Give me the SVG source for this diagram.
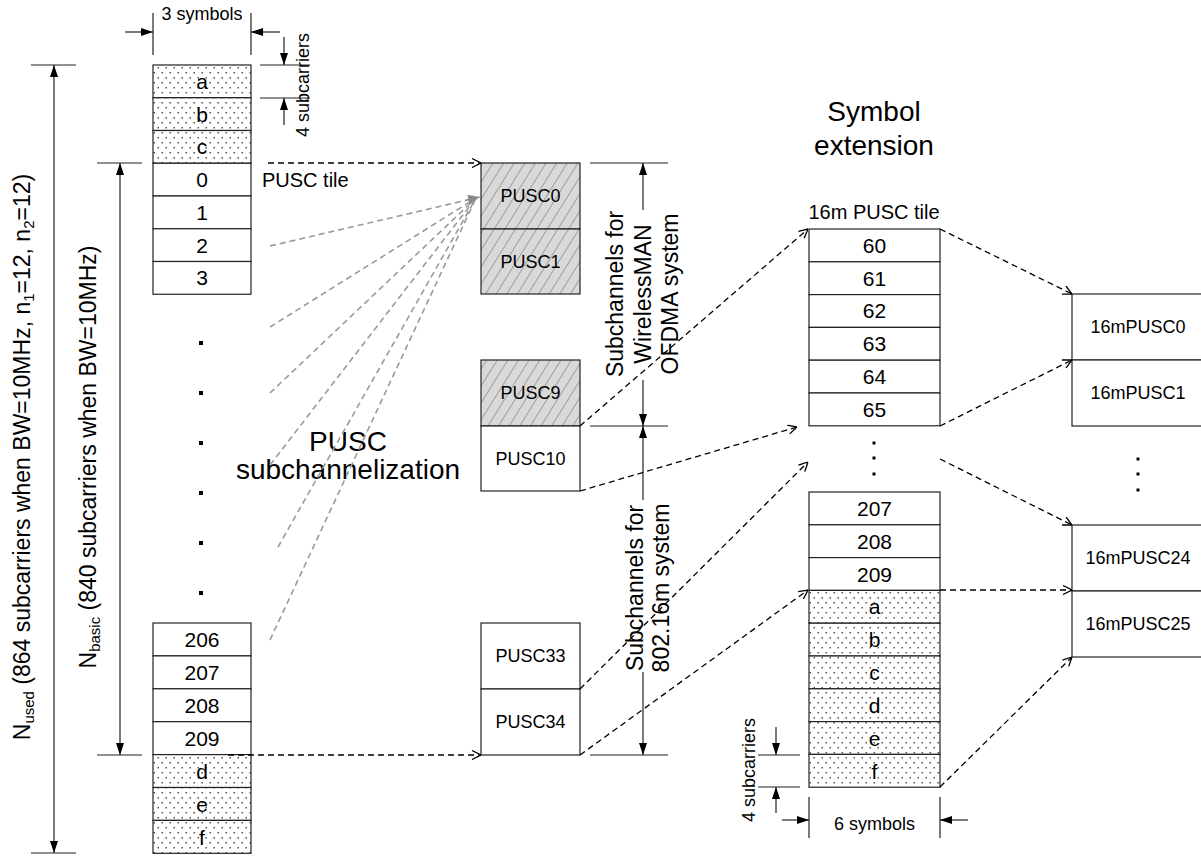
<svg xmlns="http://www.w3.org/2000/svg" width="1201" height="856" viewBox="0 0 1201 856">
<style>
text{font-family:"Liberation Sans",Arial,sans-serif;fill:#000}
.cell{stroke:#222;stroke-width:1.2;fill:#fff}
.dot{stroke:#222;stroke-width:1.2;fill:url(#dots)}
.hat{stroke:#222;stroke-width:1.2;fill:url(#hatch)}
.t21{font-size:21px;text-anchor:middle}
.t18{font-size:18px;text-anchor:middle}
.dim{stroke:#222;stroke-width:1.2;fill:none}
.da{stroke:#222;stroke-width:1.2;fill:none;marker-end:url(#af)}
.db{stroke:#222;stroke-width:1.2;fill:none;marker-start:url(#af);marker-end:url(#af)}
.dash{stroke:#000;stroke-width:1.3;fill:none;stroke-dasharray:6,4;marker-end:url(#ao)}
.gray{stroke:#9a9a9a;stroke-width:1.6;fill:none;stroke-dasharray:6,4}
.sq{fill:#000}
</style>
<defs>
<pattern id="hatch" width="9" height="9" patternUnits="userSpaceOnUse" patternTransform="rotate(32)"><rect width="9" height="9" fill="#d9d9d9"/><line x1="0" y1="0" x2="0" y2="9" stroke="#808080" stroke-width="1.3"/></pattern>
<pattern id="dots" width="8" height="10" patternUnits="userSpaceOnUse"><rect width="8" height="10" fill="#fff"/><rect x="1.5" y="2" width="1.5" height="1.5" fill="#555"/><rect x="5.5" y="7" width="1.5" height="1.5" fill="#555"/></pattern>
<marker id="af" viewBox="0 0 12 8" refX="12" refY="4" markerWidth="12" markerHeight="8" markerUnits="userSpaceOnUse" orient="auto-start-reverse"><path d="M0,0 L12,4 L0,8 z" fill="#000"/></marker>
<marker id="ao" viewBox="0 0 10 10" refX="10" refY="5" markerWidth="10" markerHeight="10" markerUnits="userSpaceOnUse" orient="auto"><path d="M1,0.5 L10,5 L1,9.5" fill="none" stroke="#000" stroke-width="1.3"/></marker>
<marker id="ag" viewBox="0 0 12 10" refX="12" refY="5" markerWidth="12" markerHeight="10" markerUnits="userSpaceOnUse" orient="auto"><path d="M0,0 L12,5 L0,10 z" fill="#8a8a8a"/></marker>
</defs>
<rect width="1201" height="856" fill="#fff"/>

<!-- left column top -->
<g id="left-top">
<rect class="dot" x="153" y="65" width="98" height="32.75"/>
<rect class="dot" x="153" y="97.75" width="98" height="32.75"/>
<rect class="dot" x="153" y="130.5" width="98" height="32.75"/>
<rect class="cell" x="153" y="163.25" width="98" height="32.75"/>
<rect class="cell" x="153" y="196" width="98" height="32.75"/>
<rect class="cell" x="153" y="228.75" width="98" height="32.75"/>
<rect class="cell" x="153" y="261.5" width="98" height="32.75"/>
<text class="t21" x="202" y="89">a</text>
<text class="t21" x="202" y="122">b</text>
<text class="t21" x="202" y="154">c</text>
<text class="t21" x="202" y="187">0</text>
<text class="t21" x="202" y="220">1</text>
<text class="t21" x="202" y="253">2</text>
<text class="t21" x="202" y="285">3</text>
</g>
<g id="left-dots">
<rect class="sq" x="199" y="341" width="4" height="4"/>
<rect class="sq" x="199" y="391" width="4" height="4"/>
<rect class="sq" x="199" y="441" width="4" height="4"/>
<rect class="sq" x="199" y="491" width="4" height="4"/>
<rect class="sq" x="199" y="541" width="4" height="4"/>
<rect class="sq" x="199" y="591" width="4" height="4"/>
</g>
<g id="left-bottom">
<rect class="cell" x="153" y="623" width="98" height="32.9"/>
<rect class="cell" x="153" y="655.9" width="98" height="32.9"/>
<rect class="cell" x="153" y="688.8" width="98" height="32.9"/>
<rect class="cell" x="153" y="721.7" width="98" height="32.9"/>
<rect class="dot" x="153" y="754.6" width="98" height="32.9"/>
<rect class="dot" x="153" y="787.5" width="98" height="32.9"/>
<rect class="dot" x="153" y="820.4" width="98" height="32.9"/>
<text class="t21" x="202" y="647">206</text>
<text class="t21" x="202" y="680">207</text>
<text class="t21" x="202" y="713">208</text>
<text class="t21" x="202" y="746">209</text>
<text class="t21" x="202" y="779">d</text>
<text class="t21" x="202" y="812">e</text>
<text class="t21" x="202" y="845">f</text>
</g>

<!-- left dimensions -->
<g id="dim-3symbols">
<line class="dim" x1="153" y1="13" x2="153" y2="55"/>
<line class="dim" x1="251" y1="13" x2="251" y2="55"/>
<line class="da" x1="125" y1="32" x2="153" y2="32"/>
<line class="da" x1="280" y1="32" x2="251" y2="32"/>
<text class="t18" x="202" y="20">3 symbols</text>
</g>
<g id="dim-4sub-top">
<line class="dim" x1="260" y1="65" x2="310" y2="65"/>
<line class="dim" x1="260" y1="98" x2="310" y2="98"/>
<line class="da" x1="284" y1="37" x2="284" y2="65"/>
<line class="da" x1="284" y1="125" x2="284" y2="98"/>
<text class="t18" transform="translate(302,85) rotate(-90)" x="0" y="7">4 subcarriers</text>
</g>
<g id="dim-nused">
<line class="dim" x1="31" y1="65" x2="76" y2="65"/>
<line class="dim" x1="31" y1="853" x2="76" y2="853"/>
<line class="db" x1="54" y1="65" x2="54" y2="853"/>
<text transform="translate(22,457) rotate(-90)" x="0" y="8" font-size="23" text-anchor="middle">N<tspan font-size="15" dy="4">used</tspan><tspan dy="-4"> (864 subcarriers when BW=10MHz, n</tspan><tspan font-size="15" dy="4">1</tspan><tspan dy="-4">=12, n</tspan><tspan font-size="15" dy="4">2</tspan><tspan dy="-4">=12)</tspan></text>
</g>
<g id="dim-nbasic">
<line class="dim" x1="97" y1="163" x2="142" y2="163"/>
<line class="dim" x1="97" y1="755" x2="142" y2="755"/>
<line class="db" x1="120" y1="163" x2="120" y2="755"/>
<text transform="translate(88,457) rotate(-90)" x="0" y="8" font-size="23" text-anchor="middle">N<tspan font-size="15" dy="4">basic</tspan><tspan dy="-4"> (840 subcarriers when BW=10MHz)</tspan></text>
</g>

<text x="262" y="187" font-size="20">PUSC tile</text>
<text x="348" y="451" font-size="28" text-anchor="middle">PUSC</text>
<text x="348" y="479" font-size="28" text-anchor="middle">subchannelization</text>

<!-- middle PUSC column -->
<g id="pusc-0-1">
<rect class="hat" x="481" y="163" width="99" height="66"/>
<rect class="hat" x="481" y="229" width="99" height="65"/>
<text class="t18" x="530.5" y="202">PUSC0</text>
<text class="t18" x="530.5" y="268">PUSC1</text>
</g>
<g id="pusc-9-10">
<rect class="hat" x="481" y="360" width="99" height="66"/>
<rect class="cell" x="481" y="426" width="99" height="65"/>
<text class="t18" x="530.5" y="399">PUSC9</text>
<text class="t18" x="530.5" y="465">PUSC10</text>
</g>
<g id="pusc-33-34">
<rect class="cell" x="481" y="623" width="99" height="66"/>
<rect class="cell" x="481" y="689" width="99" height="66"/>
<text class="t18" x="530.5" y="662">PUSC33</text>
<text class="t18" x="530.5" y="728">PUSC34</text>
</g>

<g id="dim-subchannels">
<line class="dim" x1="590" y1="163" x2="668" y2="163"/>
<line class="dim" x1="590" y1="426" x2="668" y2="426"/>
<line class="dim" x1="590" y1="755" x2="668" y2="755"/>
<line class="da" x1="643" y1="210" x2="643" y2="163"/>
<line class="da" x1="643" y1="380" x2="643" y2="426"/>
<line class="da" x1="643" y1="500" x2="643" y2="426"/>
<line class="da" x1="643" y1="672" x2="643" y2="755"/>
<text transform="translate(643,294) rotate(-90)" font-size="23" text-anchor="middle"><tspan x="0" y="-20">Subchannels for</tspan><tspan x="0" y="8">WirelessMAN</tspan><tspan x="0" y="35">OFDMA system</tspan></text>
<text transform="translate(643,588) rotate(-90)" font-size="23" text-anchor="middle"><tspan x="0" y="0">Subchannels for</tspan><tspan x="0" y="26">802.16m system</tspan></text>
</g>

<text x="874" y="121" font-size="28" text-anchor="middle">Symbol</text>
<text x="874" y="155" font-size="28" text-anchor="middle">extension</text>
<text x="874" y="219" font-size="20" text-anchor="middle">16m PUSC tile</text>

<!-- 16m tile column -->
<g id="tile16m-top">
<rect class="cell" x="809" y="229" width="131" height="32.8"/>
<rect class="cell" x="809" y="261.8" width="131" height="32.8"/>
<rect class="cell" x="809" y="294.6" width="131" height="32.8"/>
<rect class="cell" x="809" y="327.4" width="131" height="32.8"/>
<rect class="cell" x="809" y="360.2" width="131" height="32.8"/>
<rect class="cell" x="809" y="393" width="131" height="32.8"/>
<text class="t21" x="874.5" y="253">60</text>
<text class="t21" x="874.5" y="286">61</text>
<text class="t21" x="874.5" y="318">62</text>
<text class="t21" x="874.5" y="351">63</text>
<text class="t21" x="874.5" y="384">64</text>
<text class="t21" x="874.5" y="417">65</text>
</g>
<g id="tile16m-dots">
<rect class="sq" x="872.5" y="441.5" width="3" height="3"/>
<rect class="sq" x="872.5" y="456.5" width="3" height="3"/>
<rect class="sq" x="872.5" y="472.5" width="3" height="3"/>
</g>
<g id="tile16m-bottom">
<rect class="cell" x="809" y="492" width="131" height="32.8"/>
<rect class="cell" x="809" y="524.8" width="131" height="32.8"/>
<rect class="cell" x="809" y="557.6" width="131" height="32.8"/>
<rect class="dot" x="809" y="590.4" width="131" height="32.8"/>
<rect class="dot" x="809" y="623.2" width="131" height="32.8"/>
<rect class="dot" x="809" y="656" width="131" height="32.8"/>
<rect class="dot" x="809" y="688.8" width="131" height="32.8"/>
<rect class="dot" x="809" y="721.6" width="131" height="32.8"/>
<rect class="dot" x="809" y="754.4" width="131" height="32.8"/>
<text class="t21" x="874.5" y="516">207</text>
<text class="t21" x="874.5" y="549">208</text>
<text class="t21" x="874.5" y="582">209</text>
<text class="t21" x="874.5" y="614">a</text>
<text class="t21" x="874.5" y="647">b</text>
<text class="t21" x="874.5" y="680">c</text>
<text class="t21" x="874.5" y="713">d</text>
<text class="t21" x="874.5" y="746">e</text>
<text class="t21" x="874.5" y="779">f</text>
</g>
<g id="dim-4sub-bottom">
<line class="dim" x1="758" y1="755" x2="800" y2="755"/>
<line class="dim" x1="758" y1="787" x2="800" y2="787"/>
<line class="da" x1="776" y1="727" x2="776" y2="755"/>
<line class="da" x1="776" y1="813" x2="776" y2="787"/>
<text class="t18" transform="translate(748,770) rotate(-90)" x="0" y="7">4 subcarriers</text>
</g>
<g id="dim-6symbols">
<line class="dim" x1="809" y1="797" x2="809" y2="838"/>
<line class="dim" x1="940" y1="797" x2="940" y2="838"/>
<line class="da" x1="782" y1="820" x2="809" y2="820"/>
<line class="da" x1="968" y1="820" x2="940" y2="820"/>
<text class="t18" x="874.5" y="830">6 symbols</text>
</g>

<!-- far right 16m PUSC -->
<g id="pusc16m-0-1">
<rect class="cell" x="1072" y="294" width="140" height="66"/>
<rect class="cell" x="1072" y="360" width="140" height="66"/>
<text class="t18" x="1138" y="333">16mPUSC0</text>
<text class="t18" x="1138" y="399">16mPUSC1</text>
</g>
<g id="pusc16m-dots">
<rect class="sq" x="1136.5" y="457.5" width="3" height="3"/>
<rect class="sq" x="1136.5" y="472.5" width="3" height="3"/>
<rect class="sq" x="1136.5" y="488.5" width="3" height="3"/>
</g>
<g id="pusc16m-24-25">
<rect class="cell" x="1072" y="525" width="140" height="66"/>
<rect class="cell" x="1072" y="591" width="140" height="66"/>
<text class="t18" x="1138" y="564">16mPUSC24</text>
<text class="t18" x="1138" y="630">16mPUSC25</text>
</g>

<!-- connectors -->
<g id="connectors">
<g id="fan">
<line class="gray" x1="270" y1="246" x2="476" y2="198"/>
<line class="gray" x1="270" y1="327" x2="476" y2="198"/>
<line class="gray" x1="270" y1="393" x2="476" y2="198"/>
<line class="gray" x1="270" y1="465" x2="476" y2="198"/>
<line class="gray" x1="278" y1="547" x2="476" y2="198"/>
<line class="gray" x1="270" y1="640" x2="476" y2="198"/>
<line x1="466" y1="200" x2="480" y2="197" stroke="#8a8a8a" stroke-width="1" marker-end="url(#ag)"/>
</g>
<line class="dash" x1="268" y1="163" x2="481" y2="163"/>
<line class="dash" x1="228" y1="755" x2="481" y2="755"/>
<line class="dash" x1="580" y1="426" x2="808" y2="229"/>
<line class="dash" x1="580" y1="491" x2="797" y2="427"/>
<line class="dash" x1="580" y1="689" x2="808" y2="462"/>
<line class="dash" x1="580" y1="755" x2="808" y2="590"/>
<line class="dash" x1="940" y1="229" x2="1072" y2="294"/>
<line class="dash" x1="940" y1="426" x2="1072" y2="360"/>
<line class="dash" x1="940" y1="459" x2="1072" y2="525"/>
<line class="dash" x1="940" y1="590" x2="1072" y2="590"/>
<line class="dash" x1="940" y1="787" x2="1072" y2="657"/>
</g>
</svg>
